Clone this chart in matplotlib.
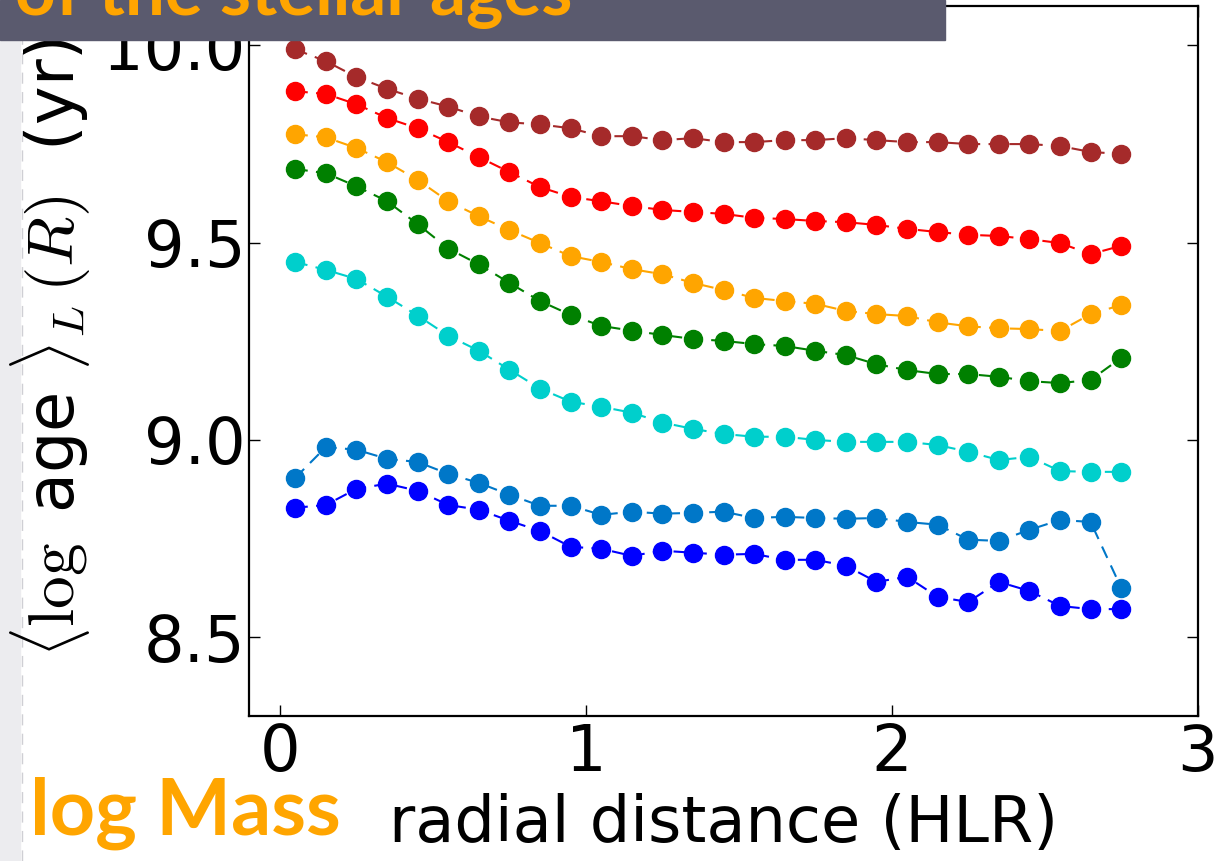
import numpy as np
import matplotlib
matplotlib.use("Agg")
import matplotlib.pyplot as plt
from matplotlib.patches import Rectangle
from matplotlib.lines import Line2D

plt.rcParams['mathtext.fontset'] = 'cm'

# radial bins (HLR)
radius = [0.05, 0.15, 0.25, 0.35, 0.45, 0.55, 0.65, 0.75, 0.85, 0.95,
          1.05, 1.15, 1.25, 1.35, 1.45, 1.55, 1.65, 1.75, 1.85, 1.95,
          2.05, 2.15, 2.25, 2.35, 2.45, 2.55, 2.65, 2.75]

# <log age>_L profiles, one per mass bin (low -> high)
age_blue = [8.828, 8.835, 8.876, 8.889, 8.871, 8.835, 8.823, 8.795, 8.769, 8.729,
            8.724, 8.706, 8.719, 8.714, 8.709, 8.711, 8.696, 8.696, 8.681, 8.640,
            8.653, 8.602, 8.589, 8.640, 8.617, 8.579, 8.571, 8.571]
age_midblue = [8.904, 8.982, 8.975, 8.952, 8.944, 8.914, 8.891, 8.861, 8.833, 8.833,
               8.810, 8.818, 8.813, 8.815, 8.818, 8.802, 8.805, 8.802, 8.800, 8.802,
               8.792, 8.785, 8.747, 8.744, 8.772, 8.797, 8.792, 8.625]
age_cyan = [9.451, 9.431, 9.408, 9.363, 9.315, 9.264, 9.226, 9.178, 9.130, 9.097,
            9.084, 9.069, 9.044, 9.028, 9.015, 9.008, 9.008, 9.000, 8.995, 8.995,
            8.995, 8.987, 8.970, 8.949, 8.957, 8.921, 8.919, 8.919]
age_green = [9.687, 9.676, 9.643, 9.605, 9.547, 9.485, 9.445, 9.398, 9.352, 9.317,
             9.289, 9.277, 9.266, 9.256, 9.251, 9.243, 9.238, 9.226, 9.215, 9.192,
             9.177, 9.167, 9.167, 9.160, 9.149, 9.144, 9.152, 9.208]
age_orange = [9.775, 9.767, 9.740, 9.704, 9.659, 9.605, 9.567, 9.532, 9.499, 9.466,
              9.451, 9.433, 9.420, 9.398, 9.380, 9.360, 9.352, 9.345, 9.327, 9.319,
              9.314, 9.298, 9.288, 9.283, 9.281, 9.276, 9.319, 9.342]
age_red = [9.884, 9.877, 9.851, 9.816, 9.790, 9.755, 9.717, 9.679, 9.641, 9.616,
           9.605, 9.593, 9.583, 9.578, 9.573, 9.563, 9.560, 9.555, 9.552, 9.545,
           9.535, 9.527, 9.520, 9.517, 9.509, 9.499, 9.471, 9.492]
age_brown = [9.990, 9.960, 9.920, 9.890, 9.865, 9.845, 9.820, 9.805, 9.800, 9.790,
             9.770, 9.770, 9.760, 9.765, 9.755, 9.755, 9.760, 9.760, 9.765, 9.760,
             9.755, 9.755, 9.750, 9.750, 9.750, 9.745, 9.730, 9.725]

profiles = [age_blue, age_midblue, age_cyan, age_green, age_orange, age_red, age_brown]
colors = ['#0000ff', '#0077c8', '#00cfcc', '#008000', '#ffa500', '#ff0000', '#a52a2a']

fig = plt.figure(figsize=(12.3, 8.61), dpi=100)
ax = fig.add_axes([0.2028, 0.1684, 0.7709, 0.8246])

for prof, c in zip(profiles, colors):
    ax.plot(radius, prof, '--', color=c, lw=1.5, dashes=(6, 4),
            marker='o', ms=13, mec=c, mfc=c)

ax.set_xlim(-0.1, 3.0)
ax.set_ylim(8.3, 10.1)
ax.set_xticks([0, 1, 2, 3])
ax.set_yticks([8.5, 9.0, 9.5, 10.0])
ax.set_yticklabels(['8.5', '9.0', '9.5', '10.0'])
ax.tick_params(direction='in', top=True, right=True, length=8, width=1,
               labelsize=46)
ax.tick_params(axis='y', pad=3)
ax.tick_params(axis='x', pad=4)
for s in ax.spines.values():
    s.set_linewidth(1.6)

ax.set_xlabel('radial distance (HLR)', fontsize=46, labelpad=7)
ax.set_ylabel(r'$\langle\log$ age $\rangle_L\,(R)$  (yr)', fontsize=47, labelpad=6)
ax.yaxis.set_label_coords(-0.165, 0.52)

# slide decorations
fig.add_artist(Rectangle((0, 0), 20 / 1230, 1, transform=fig.transFigure,
                         color='#ececef', zorder=0))
fig.add_artist(Line2D([22 / 1230, 22 / 1230], [0, 1], transform=fig.transFigure,
                      color='#cfcfd4', lw=1, ls=(0, (8, 6)), zorder=0))
fig.add_artist(Rectangle((0, 1 - 40 / 861), 945 / 1230, 40 / 861,
                         transform=fig.transFigure, color='#5a5a6e', zorder=5))
fig.text(0.012, 1 - 15 / 861, 'of the stellar ages', color='#ffa500', fontsize=51,
         fontweight='bold', family='Lato', ha='left', va='baseline', zorder=6)
fig.text(0.024, 1 - 835 / 861, 'log Mass', color='#ffa500', fontsize=57,
         fontweight='bold', family='Lato', ha='left', va='baseline')

fig.savefig('out.png', dpi=100)
